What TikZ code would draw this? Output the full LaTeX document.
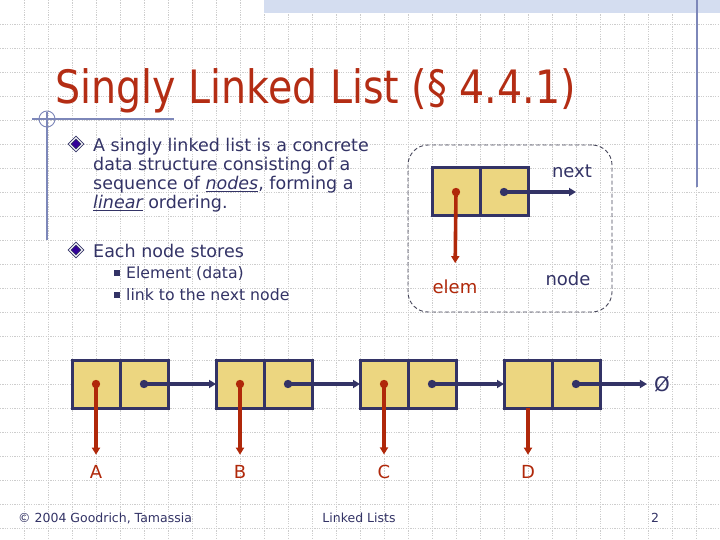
\documentclass[tikz,border=0pt]{standalone}
\usepackage{fontspec}
\setmainfont{DejaVu Sans}
\newfontfamily\titlefont{DejaVu Sans}[FakeStretch=0.86]
\usetikzlibrary{arrows.meta,shapes.geometric}
\definecolor{navy}{RGB}{51,51,102}
\definecolor{titlered}{RGB}{180,45,20}
\definecolor{arrred}{RGB}{176,40,10}
\definecolor{cellfill}{RGB}{236,214,128}
\definecolor{gridc}{RGB}{205,205,205}
\definecolor{deco}{RGB}{125,135,185}
\definecolor{band}{RGB}{212,221,240}
\definecolor{bulletin}{RGB}{51,0,153}
\definecolor{framec}{RGB}{70,70,90}
\begin{document}
\begin{tikzpicture}[x=1pt,y=-1pt,
  cell/.style={draw=navy,line width=3pt,fill=cellfill,minimum width=48pt,minimum height=48pt,inner sep=0pt,outer sep=0pt},
  reddot/.style={fill=arrred},
  bluedot/.style={fill=navy},
  redarrow/.style={draw=arrred,line width=3.6pt,-{Triangle[length=7pt,width=8pt]}},
  bluearrow/.style={draw=navy,line width=3.6pt,-{Triangle[length=7pt,width=8pt]}},
  body/.style={anchor=base west,inner sep=0pt,text=navy,font=\fontsize{17.5}{17.5}\selectfont},
  sub/.style={anchor=base west,inner sep=0pt,text=navy,font=\fontsize{15.7}{15.7}\selectfont},
  lbl/.style={anchor=base,inner sep=0pt,font=\fontsize{18}{18}\selectfont},
  foot/.style={anchor=base west,inner sep=0pt,text=navy,font=\fontsize{12.5}{12.5}\selectfont},
  bulletd/.style={diamond,fill=bulletin,draw=navy,double=white,double distance=1pt,line width=0.9pt,minimum width=13pt,minimum height=13pt,inner sep=0pt},
  bullets/.style={rectangle,fill=navy,minimum width=5.5pt,minimum height=5.5pt,inner sep=0pt},
  gridline/.style={draw=gridc,line width=0.7pt,dash pattern=on 1.2pt off 1.2pt}
]
\useasboundingbox (0,0) rectangle (720,540);
\fill[white] (0,0) rectangle (720,540);
% grid
\foreach \gx in {24,48,...,696} {\draw[gridline] (\gx,0) -- (\gx,540);}
\foreach \gy in {24,48,...,528} {\draw[gridline] (0,\gy) -- (720,\gy);}
% top band and decorations
\fill[band] (264,0) rectangle (720,13);
\draw[deco,line width=1.5pt] (697,0) -- (697,187);
\draw[deco,line width=1.2pt] (32,119) -- (174,119);
\draw[deco,line width=1.2pt] (47,112) -- (47,240);
\draw[deco,line width=0.9pt] (47,119) circle (8);
% title
\node[anchor=base west,inner sep=0pt,text=titlered,font=\titlefont\fontsize{46}{46}\selectfont] (title) at (55,104) {Singly Linked List (§ 4.4.1)};
% bullets
\node[bulletd] (b1) at (76,144) {};
\node[body] (t1) at (93,152) {A singly linked list is a concrete};
\node[body] (t2) at (93,171) {data structure consisting of a};
\node[body] (t3) at (93,190) {sequence of \underline{\itshape nodes}, forming a};
\node[body] (t4) at (93,209) {\underline{\itshape linear} ordering.};
\node[bulletd] (b2) at (76,250) {};
\node[body] (t5) at (93,257) {Each node stores};
\node[bullets] (s1) at (117,273) {};
\node[sub] (t6) at (126,278) {Element (data)};
\node[bullets] (s2) at (117,295) {};
\node[sub] (t7) at (126,300) {link to the next node};
% single node illustration
\node[draw=framec,line width=0.9pt,dash pattern=on 4pt off 2.5pt,rounded corners=20pt,minimum width=204pt,minimum height=167pt,inner sep=0pt] (frame) at (510,228.5) {};
\node[cell] (ne) at (456,192) {};
\node[cell] (nn) at (504,192) {};
\node[lbl,text=arrred] (elem) at (455,293) {elem};
\node[lbl,text=navy] (next) at (572,178) {next};
\node[lbl,text=navy] (nodel) at (568,285) {node};
\coordinate (nextend) at (576,192);
\fill[reddot] (ne.center) circle (4.2);
\fill[bluedot] (nn.center) circle (4.2);
\draw[redarrow,shorten >=16pt] (ne.center) -- (elem.north);
\draw[bluearrow] (nn.center) -- (nextend);
% list
\node[cell] (ae) at (96,384) {};
\node[cell] (an) at (144,384) {};
\node[cell] (be) at (240,384) {};
\node[cell] (bn) at (288,384) {};
\node[cell] (ce) at (384,384) {};
\node[cell] (cn) at (432,384) {};
\node[cell] (de) at (528,384) {};
\node[cell] (dn) at (576,384) {};
\node[lbl,text=arrred] (A) at (96,478) {A};
\node[lbl,text=arrred] (B) at (240,478) {B};
\node[lbl,text=arrred] (C) at (384,478) {C};
\node[lbl,text=arrred] (D) at (528,478) {D};
\node[anchor=center,inner sep=0pt,text=navy,font=\fontsize{20}{20}\selectfont] (null) at (662,384) {Ø};
\foreach \e in {ae,be,ce} {\fill[reddot] (\e.center) circle (4.2);}
\foreach \n in {an,bn,cn,dn} {\fill[bluedot] (\n.center) circle (4.2);}
\draw[redarrow,shorten >=10pt] (ae.center) -- (A.north);
\draw[redarrow,shorten >=10pt] (be.center) -- (B.north);
\draw[redarrow,shorten >=10pt] (ce.center) -- (C.north);
\draw[redarrow,shorten >=10pt] (de.south) -- (D.north);
\draw[bluearrow] (an.center) -- (be.west);
\draw[bluearrow] (bn.center) -- (ce.west);
\draw[bluearrow] (cn.center) -- (de.west);
\draw[bluearrow,shorten >=7pt] (dn.center) -- (null.west);
% footer
\node[foot] (copy) at (18,522) {© 2004 Goodrich, Tamassia};
\node[foot,anchor=base] (mid) at (359,522) {Linked Lists};
\node[foot,anchor=base] (page) at (655,522) {2};
\end{tikzpicture}
\end{document}
